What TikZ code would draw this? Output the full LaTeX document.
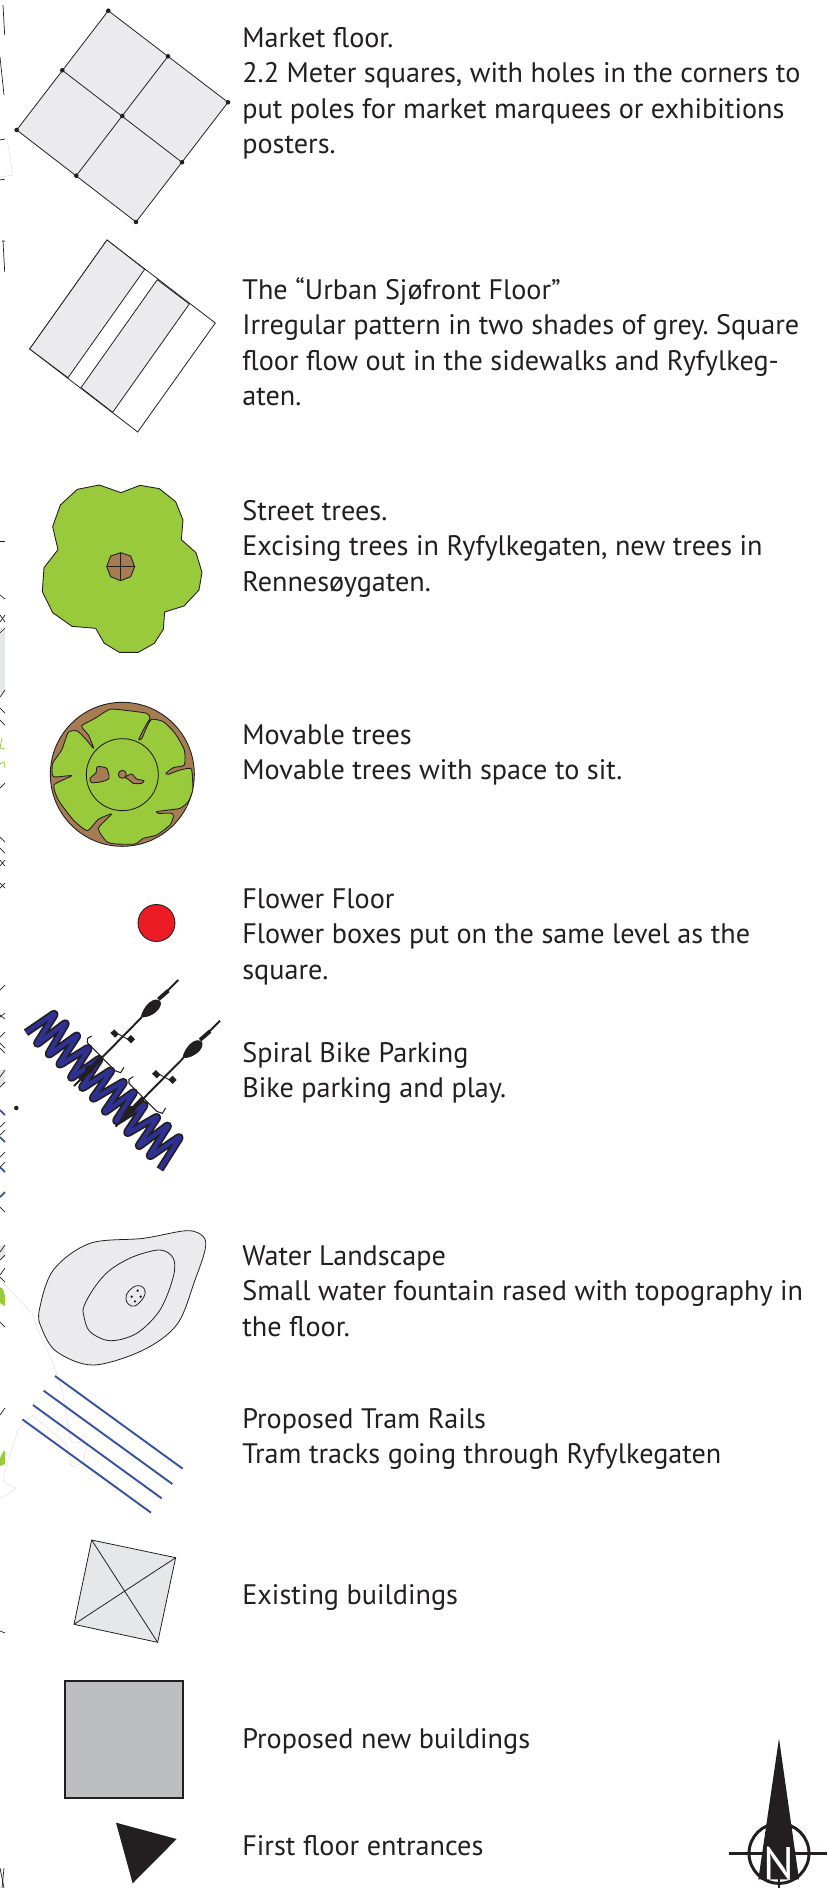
\documentclass[tikz,border=0pt]{standalone}
\usepackage{fontspec}
\setmainfont{PT Sans}
\frenchspacing
\usetikzlibrary{
    arrows.meta,
    positioning,
    calc
}
\definecolor{PaleFloor}{HTML}{EBEBED}
\definecolor{LeafGreen}{HTML}{98CA3C}
\definecolor{TrunkBrown}{HTML}{A67C52}
\definecolor{RailBlue}{HTML}{3953A4}
\definecolor{SpiralBlue}{HTML}{2E3192}
\definecolor{InkBlack}{HTML}{231F20}
\definecolor{OldBuilding}{HTML}{E6E7E8}
\definecolor{NewBuilding}{HTML}{BCBEC0}
\definecolor{FlowerRed}{HTML}{ED1C24}
\tikzset{
    % --- Description text beside each symbol ---
    legend_text/.style = {
        anchor=north west, inner sep=0pt, align=left, text=InkBlack,
        font=\fontsize{16.05}{20.2}\selectfont
    },
    % --- Outlined floor patch ---
    floor_patch/.style = {
        draw=InkBlack, line width=0.45pt, fill=PaleFloor
    },
    % --- Corner hole in the market floor ---
    pole_hole/.style = {
        circle, fill=InkBlack, inner sep=0pt, minimum size=2.6pt
    },
    tree_part/.style = {
        draw=InkBlack, line width=0.5pt, line join=round
    },
    rail_line/.style = {
        draw=RailBlue, line width=1.1pt
    },
    % --- Scraps of the map along the left edge ---
    edge_mark/.style = {
        draw=InkBlack, line width=0.4pt
    }
}
\begin{document}
\begin{tikzpicture}[x=0.02cm, y=-0.02cm, >=Stealth]
\useasboundingbox (0,0) rectangle (827,1888);

% ---------------------------------------------------------
% 0. Map scraps on the left edge
% ---------------------------------------------------------
\fill[OldBuilding] (0,628) rectangle (5,693);
\fill[OldBuilding] (0,1070) rectangle (5,1085);
\fill[OldBuilding] (0,1245) rectangle (5,1258);
\foreach \ya/\yb in {541/541, 595/599, 622/615, 615/622, 633/628, 697/690, 708/713,
    720/725, 788/783, 837/842, 848/853, 860/866, 866/860, 883/888, 888/883, 990/985,
    1017/1013, 1015/1019, 1037/1032, 1043/1048, 1048/1053, 1077/1070, 1087/1082,
    1127/1122, 1135/1130, 1157/1152, 1167/1162, 1207/1212, 1252/1245, 1260/1255,
    1275/1268, 1277/1282, 1322/1327, 1415/1408, 1631/1633}
    \draw[edge_mark] (0,\ya) -- (5,\yb);
\draw[edge_mark] (3,5) -- (4.7,35);
\draw[edge_mark] (0,57) -- (4,95);
\draw[edge_mark] (0,140) -- (5,139);
\draw[edge_mark] (0,180) -- (5,179);
\draw[edge_mark] (2,241) -- (5,241) (3,241) -- (4.7,272);
\draw[edge_mark] (0,1868) -- (4,1888);
\draw[edge_mark] (4,1868) -- (2,1888);
\draw[OldBuilding, line width=0.4pt] (7,139) -- (13,175) -- (0,177);
\foreach \ya/\yb in {1110/1115, 1137/1142, 1167/1172, 1197/1192}
    \draw[RailBlue, line width=1pt] (0,\ya) -- (5,\yb);
\draw[LeafGreen, line width=0.4pt] (2,738) -- (0,748) -- (5,749);
\draw[LeafGreen, line width=0.4pt] (0,764) -- (4,762) -- (5,768);
\fill[LeafGreen] (0,1287) -- (3,1289) -- (5,1296) -- (5,1306) -- (0,1303) -- cycle;
\fill[LeafGreen] (0,1458) -- (4,1450) -- (5,1452) -- (5,1464) -- (0,1466) -- cycle;
\node[circle, fill=InkBlack, inner sep=0pt, minimum size=2.6pt] (StrayDot) at (16.3,1108) {};
\draw[PaleFloor, line width=0.5pt] (0,1280) -- (32,1313) -- (37,1328) -- (53,1363)
    -- (62,1390) -- (71,1442) -- (87,1443) -- (83,1463) -- (72,1467) -- (66,1443)
    -- (32,1415) -- (18,1430) -- (3,1477) -- (5,1483) -- (16,1488) -- (7,1495) -- (0,1498);

% ---------------------------------------------------------
% 1. Market floor
% ---------------------------------------------------------
\coordinate (MarketTop) at (108.3,10.7);
\coordinate (MarketRight) at (228,102.3);
\coordinate (MarketBottom) at (136,222);
\coordinate (MarketLeft) at (16.7,130);
\coordinate (MarketNE) at (168,56.3);
\coordinate (MarketSE) at (182,162.3);
\coordinate (MarketSW) at (76.3,175.7);
\coordinate (MarketNW) at (62.3,70.3);
\draw[floor_patch] (MarketTop) -- (MarketRight) -- (MarketBottom) -- (MarketLeft) -- cycle;
\draw[floor_patch] (MarketNW) -- (MarketSE);
\draw[floor_patch] (MarketNE) -- (MarketSW);
\foreach \corner in {MarketTop, MarketRight, MarketBottom, MarketLeft, MarketNE, MarketSE, MarketSW, MarketNW}
    \node[pole_hole] at (\corner) {};
\node[pole_hole] (MarketMid) at (122.3,116) {};

\node[legend_text] (TxtMarket) at (242,27) {Market floor.\\
2.2 Meter squares, with holes in the corners to\\
put poles for market marquees or exhibitions\\
posters.};

% ---------------------------------------------------------
% 2. Urban floor
% ---------------------------------------------------------
\draw[floor_patch, fill=white] (107,240) -- (215.3,323) -- (137.7,432) -- (29.7,349) -- cycle;
\draw[floor_patch] (107,240) -- (144.7,269.3) -- (68,377.7) -- (29.7,349) -- cycle;
\draw[floor_patch] (157.3,279.7) -- (189.3,304) -- (112.7,412.3) -- (81,387.7) -- cycle;

\node[legend_text] (TxtUrban) at (242,277) {The ``Urban Sjøfront Floor''\\
Irregular pattern in two shades of grey. Square\\
floor flow out in the sidewalks and Ryfylkeg-\\
aten.};

% ---------------------------------------------------------
% 3. Street tree
% ---------------------------------------------------------
\begin{scope}[shift={(0,470)}, scale=1/3]
\draw[tree_part, fill=LeafGreen] (298,45) -- (363,68) -- (420,46) -- (478,56) -- (527,95)
    -- (549,150) -- (544,209) -- (588,248) -- (606,307) -- (597,360) -- (552,408) -- (494,426)
    -- (490,478) -- (463,520) -- (415,547) -- (358,547) -- (313,520) -- (287,475) -- (216,469)
    -- (158,428) -- (127,365) -- (132,293) -- (174,239) -- (158,170) -- (181,105) -- (232,58) -- cycle;
\draw[tree_part, fill=TrunkBrown] (362,248) -- (392,258) -- (404,290) -- (392,320) -- (362,332)
    -- (332,320) -- (320,290) -- (332,258) -- cycle;
\draw[tree_part] (320,290) -- (404,290);
\draw[tree_part] (362,248) -- (362,332);
\end{scope}

\node[legend_text] (TxtStreet) at (242,500) {Street trees.\\
Excising trees in Ryfylkegaten, new trees in\\
Rennesøygaten.};

% ---------------------------------------------------------
% 4. Movable tree
% ---------------------------------------------------------
\begin{scope}[shift={(0,470)}, scale=1/3]
\draw[tree_part, fill=TrunkBrown] (367,913) circle (216);
\draw[tree_part, fill=LeafGreen] plot[smooth cycle, tension=0.35] coordinates {
    (245,768) (285,745) (330,718) (385,722) (440,730) (450,745) (438,765) (416,808)
    (425,806) (440,772) (455,748) (490,755) (525,790) (553,840) (553,885) (520,893)
    (498,910) (505,913) (540,900) (572,895) (577,915) (578,960) (565,995) (540,1015)
    (505,1020) (470,1025) (475,1030) (515,1030) (520,1040) (510,1065) (470,1095) (430,1105)
    (405,1122) (350,1122) (320,1115) (295,1075) (335,1032) (295,1048) (262,1082) (220,1050)
    (175,990) (162,945) (215,917) (160,920) (158,880) (185,840) (205,787) (232,783)
    (258,808) (281,835) (265,795)};
\draw[tree_part] (367,914) circle (108);
\draw[tree_part, fill=TrunkBrown] plot[smooth cycle, tension=0.4] coordinates {
    (292,890) (320,895) (327,925) (305,935) (275,938) (270,925) (288,908)};
\draw[tree_part, fill=TrunkBrown] plot[smooth cycle, tension=0.4] coordinates {
    (375,922) (395,912) (410,927) (432,932) (425,940) (400,940) (385,928)};
\draw[tree_part, fill=TrunkBrown] (367,913) circle (12);
\end{scope}

\node[legend_text] (TxtMovable) at (242,724) {Movable trees\\
Movable trees with space to sit.};

% ---------------------------------------------------------
% 5. Flower floor
% ---------------------------------------------------------
\draw[tree_part, fill=FlowerRed] (156.5,923) circle (18.5);

\node[legend_text] (TxtFlower) at (242,888) {Flower Floor\\
Flower boxes put on the same level as the\\
square.};

% ---------------------------------------------------------
% 6. Spiral bike parking
% ---------------------------------------------------------
\begin{scope}[shift={(0,960)}, scale=1/3]
\foreach \col/\wid in {InkBlack/4.4pt, SpiralBlue/2.4pt}
    \draw[\col, line width=\wid, line join=round, rounded corners=3pt] (78,218)
        -- (170,155) -- (105,258) -- (203,183) -- (140,290) -- (238,220) -- (172,320)
        -- (272,258) -- (207,360) -- (305,290) -- (240,390) -- (340,325) -- (272,422)
        -- (378,360) -- (308,462) -- (408,390) -- (342,490) -- (440,428) -- (375,525)
        -- (478,465) -- (410,565) -- (510,490) -- (443,595) -- (545,525) -- (480,628);
\foreach \dx/\dy in {0/0, 125/122} {
    \begin{scope}[shift={(\dx,\dy)}]
    \draw[InkBlack, line width=1.1pt] (222,378) -- (425,172);
    \draw[InkBlack, line width=2.6pt] (240,360) -- (305,292);
    \fill[InkBlack] (422,172) .. controls (430,135) and (465,105) .. (482,125)
        .. controls (488,145) and (455,175) .. cycle;
    \draw[InkBlack, line width=2.2pt] (475,118) -- (505,92);
    \draw[InkBlack, line width=1.1pt] (500,95) -- (535,60);
    \fill[InkBlack] (268,328) circle (13);
    \draw[InkBlack, line width=0.6pt] (275,228) -- (262,236) -- (262,248) -- (345,332) -- (362,338) -- (372,322);
    \fill[InkBlack] (343,208) -- (357,222) -- (345,233) -- (331,219) -- cycle;
    \fill[InkBlack] (393,225) -- (405,238) -- (393,250) -- (380,237) -- cycle;
    \draw[InkBlack, line width=0.5pt] (355,222) -- (382,237);
    \end{scope}
}
\end{scope}

\node[legend_text] (TxtBike) at (242,1042) {Spiral Bike Parking\\
Bike parking and play.};

% ---------------------------------------------------------
% 7. Water landscape
% ---------------------------------------------------------
\begin{scope}[shift={(0,1200)}, scale=1/3]
\draw[floor_patch] plot[smooth cycle, tension=0.55] coordinates {
    (118,330) (160,210) (270,130) (430,115) (560,92) (610,110) (615,150) (585,240)
    (532,372) (430,450) (280,495) (170,455) (125,385)};
\draw[floor_patch] plot[smooth cycle, tension=0.55] coordinates {
    (252,318) (285,260) (330,210) (400,170) (480,150) (520,175) (520,230) (480,330) (410,400)
    (330,422) (270,395) (252,350)};
\draw[floor_patch] plot[smooth cycle, tension=0.7] coordinates {
    (385,275) (410,257) (432,265) (432,290) (405,318) (385,312) (378,295)};
\foreach \hx/\hy in {413/272, 395/290, 422/290, 405/304}
    \fill[InkBlack] (\hx,\hy) circle (4);
\end{scope}

\node[legend_text] (TxtWater) at (242,1245) {Water Landscape\\
Small water fountain rased with topography in\\
the floor.};

% ---------------------------------------------------------
% 8. Tram rails
% ---------------------------------------------------------
\begin{scope}[shift={(0,1200)}, scale=1/3]
\draw[rail_line] (165,528) -- (548,806);
\draw[rail_line] (131,572) -- (517,852);
\draw[rail_line] (99,615) -- (485,895);
\draw[rail_line] (67,658) -- (453,938);
\end{scope}

\node[legend_text] (TxtTram) at (242,1408) {Proposed Tram Rails\\
Tram tracks going through Ryfylkegaten};

% ---------------------------------------------------------
% 9. Buildings and entrance
% ---------------------------------------------------------
\begin{scope}[shift={(0,1520)}, scale=1/3]
\coordinate (OldNW) at (275,60);
\coordinate (OldNE) at (527,113);
\coordinate (OldSE) at (473,367);
\coordinate (OldSW) at (222,313);
\draw[floor_patch, fill=OldBuilding] (OldNW) -- (OldNE) -- (OldSE) -- (OldSW) -- cycle;
\draw[floor_patch] (OldNW) -- (OldSE);
\draw[floor_patch] (OldNE) -- (OldSW);
\draw[draw=InkBlack, line width=1.3pt, fill=NewBuilding] (195,483) rectangle (548,835);
\fill[InkBlack] (348,908) -- (530,957) -- (398,1090) -- cycle;
\end{scope}

\node[legend_text] (TxtExisting) at (242,1584) {Existing buildings};
\node[legend_text] (TxtNew) at (242,1728) {Proposed new buildings};
\node[legend_text] (TxtEntrance) at (242,1835) {First floor entrances};

% ---------------------------------------------------------
% 10. North arrow
% ---------------------------------------------------------
\begin{scope}[shift={(700,1720)}, scale=1/3]
\draw[InkBlack, line width=1.7pt] (237,400) circle (90);
\draw[InkBlack, line width=1.4pt] (88,400) -- (381,400);
\fill[InkBlack] (237,55) -- (297,478) -- (175,478) -- cycle;
\draw[InkBlack, line width=1.2pt] (237,478) -- (237,504);
\node[text=white, inner sep=0pt, font=\fontsize{26}{26}\selectfont] (NorthN) at (237,430) {N};
\end{scope}

\end{tikzpicture}
\end{document}
